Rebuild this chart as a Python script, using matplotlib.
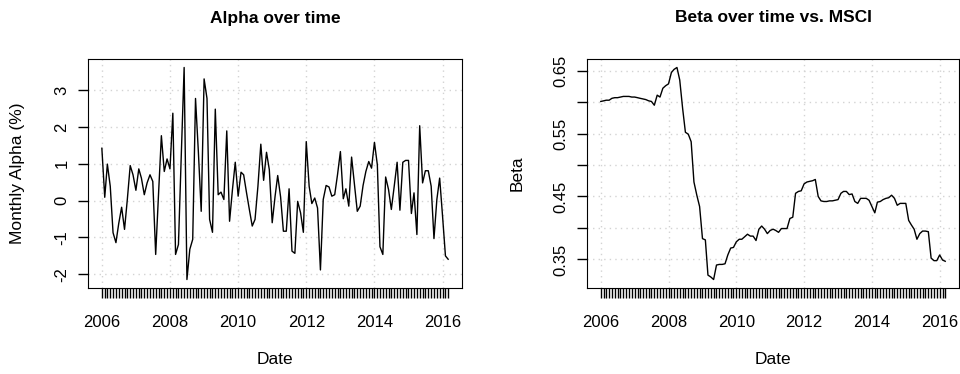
import numpy as np
import pandas as pd
import matplotlib
matplotlib.use('Agg')
import matplotlib.pyplot as plt

plt.rcParams['font.family'] = ['Liberation Sans', 'DejaVu Sans']

# monthly observations, Jan 2006 - Mar 2016
dates = pd.date_range('2006-01-01', periods=123, freq='MS')

alpha = [1.42, 0.09, 0.99, 0.39, -0.87, -1.14, -0.62, -0.18, -0.78, 0.03,
         0.95, 0.70, 0.28, 0.86, 0.61, 0.16, 0.48, 0.70, 0.52, -1.46,
         0.20, 1.76, 0.79, 1.13, 0.86, 2.37, -1.46, -1.19, 1.20, 3.61,
         -2.14, -1.32, -1.05, 2.77, 1.30, -0.29, 3.30, 2.77, -0.51, -0.86,
         2.48, 0.16, 0.23, 0.03, 1.89, -0.56, 0.30, 1.04, 0.12, 0.77,
         0.70, 0.21, -0.24, -0.69, -0.51, 0.39, 1.53, 0.55, 1.31, 0.84,
         -0.60, 0.12, 0.68, 0.10, -0.83, -0.83, 0.32, -1.37, -1.43, -0.02,
         -0.33, -0.86, 1.60, 0.39, -0.08, 0.07, -0.20, -1.88, 0.03, 0.41,
         0.37, 0.12, 0.16, 0.70, 1.33, 0.05, 0.32, -0.15, 1.18, 0.43,
         -0.29, -0.15, 0.41, 0.79, 1.06, 0.88, 1.58, 0.97, -1.25, -1.46,
         0.64, 0.30, -0.24, 0.39, 1.04, -0.26, 1.04, 1.09, 1.09, -0.35,
         0.21, -0.92, 2.03, 0.48, 0.81, 0.81, 0.39, -1.03, 0.03, 0.61,
         -0.42, -1.50, -1.59]

beta = [0.601, 0.602, 0.603, 0.603, 0.606, 0.607, 0.607, 0.608, 0.609, 0.609,
        0.609, 0.608, 0.608, 0.607, 0.606, 0.605, 0.604, 0.602, 0.601, 0.595,
        0.611, 0.608, 0.622, 0.626, 0.629, 0.647, 0.652, 0.655, 0.635, 0.590,
        0.552, 0.549, 0.537, 0.473, 0.452, 0.434, 0.383, 0.381, 0.325, 0.322,
        0.318, 0.341, 0.342, 0.342, 0.343, 0.357, 0.368, 0.369, 0.378, 0.382,
        0.382, 0.386, 0.390, 0.387, 0.387, 0.380, 0.398, 0.403, 0.398, 0.391,
        0.396, 0.398, 0.396, 0.393, 0.399, 0.399, 0.399, 0.415, 0.417, 0.455,
        0.458, 0.459, 0.470, 0.473, 0.474, 0.475, 0.477, 0.450, 0.443, 0.442,
        0.442, 0.443, 0.443, 0.444, 0.445, 0.455, 0.458, 0.458, 0.453, 0.454,
        0.442, 0.439, 0.447, 0.447, 0.447, 0.444, 0.434, 0.424, 0.441, 0.442,
        0.445, 0.447, 0.448, 0.452, 0.447, 0.436, 0.439, 0.439, 0.439, 0.412,
        0.405, 0.398, 0.382, 0.391, 0.395, 0.395, 0.394, 0.352, 0.348, 0.348,
        0.357, 0.349, 0.347]

grid_years = [2006, 2008, 2010, 2012, 2014, 2016]
alpha_ticks = [-2, -1, 0, 1, 2, 3]
alpha_labels = ['-2', '-1', '0', '1', '2', '3']
beta_ticks = [0.35, 0.40, 0.45, 0.50, 0.55, 0.60, 0.65]
beta_labels = ['0.35', '', '0.45', '', '0.55', '', '0.65']


def draw_panel(fig, rect, values, yticks, ylabels, title, ylabel, ylabel_x):
    ax = fig.add_axes(rect)
    ax.plot(dates, values, color='black', lw=1.0, zorder=3)
    ax.margins(x=0.04, y=0.04)

    for yr in grid_years:
        ax.axvline(pd.Timestamp(f'{yr}-01-01'), color='#d3d3d3', lw=1.0,
                   linestyle=(0, (1, 3)), zorder=1)
    for yv in yticks:
        ax.axhline(yv, color='#d3d3d3', lw=1.0, linestyle=(0, (1, 3)), zorder=1)

    xlabels = [d.strftime('%Y') if (d.month == 1 and d.year in grid_years) else ''
               for d in dates]
    ax.set_xticks(dates)
    ax.set_xticklabels(xlabels)
    ax.set_yticks(yticks)
    ax.set_yticklabels(ylabels)
    for lab in ax.get_yticklabels():
        lab.set_rotation(90)
        lab.set_va('center')
    ax.tick_params(axis='both', direction='out', length=7.5, width=1.0,
                   labelsize=12, colors='black')
    ax.tick_params(axis='x', pad=12)
    ax.tick_params(axis='y', pad=6)
    for sp in ax.spines.values():
        sp.set_linewidth(0.8)

    xc = rect[0] + rect[2] / 2
    fig.text(xc, 1 - 18 / 374, title, ha='center', va='center',
             fontsize=12.5, fontweight='bold')
    fig.text(xc, 1 - 360 / 374, 'Date', ha='center', va='center', fontsize=12.5)
    fig.text(ylabel_x, rect[1] + rect[3] / 2, ylabel, ha='center', va='center',
             rotation=90, fontsize=12.5)
    return ax


def main():
    fig = plt.figure(figsize=(9.6, 3.74), dpi=100)
    bottom = (374 - 288) / 374
    height = 229 / 374
    draw_panel(fig, [88 / 960, bottom, 374 / 960, height], alpha,
               alpha_ticks, alpha_labels, 'Alpha over time',
               'Monthly Alpha (%)', 18 / 960)
    draw_panel(fig, [587 / 960, bottom, 372 / 960, height], beta,
               beta_ticks, beta_labels, 'Beta over time vs. MSCI',
               'Beta', 517 / 960)
    fig.savefig('out.png', dpi=100)


if __name__ == '__main__':
    main()
